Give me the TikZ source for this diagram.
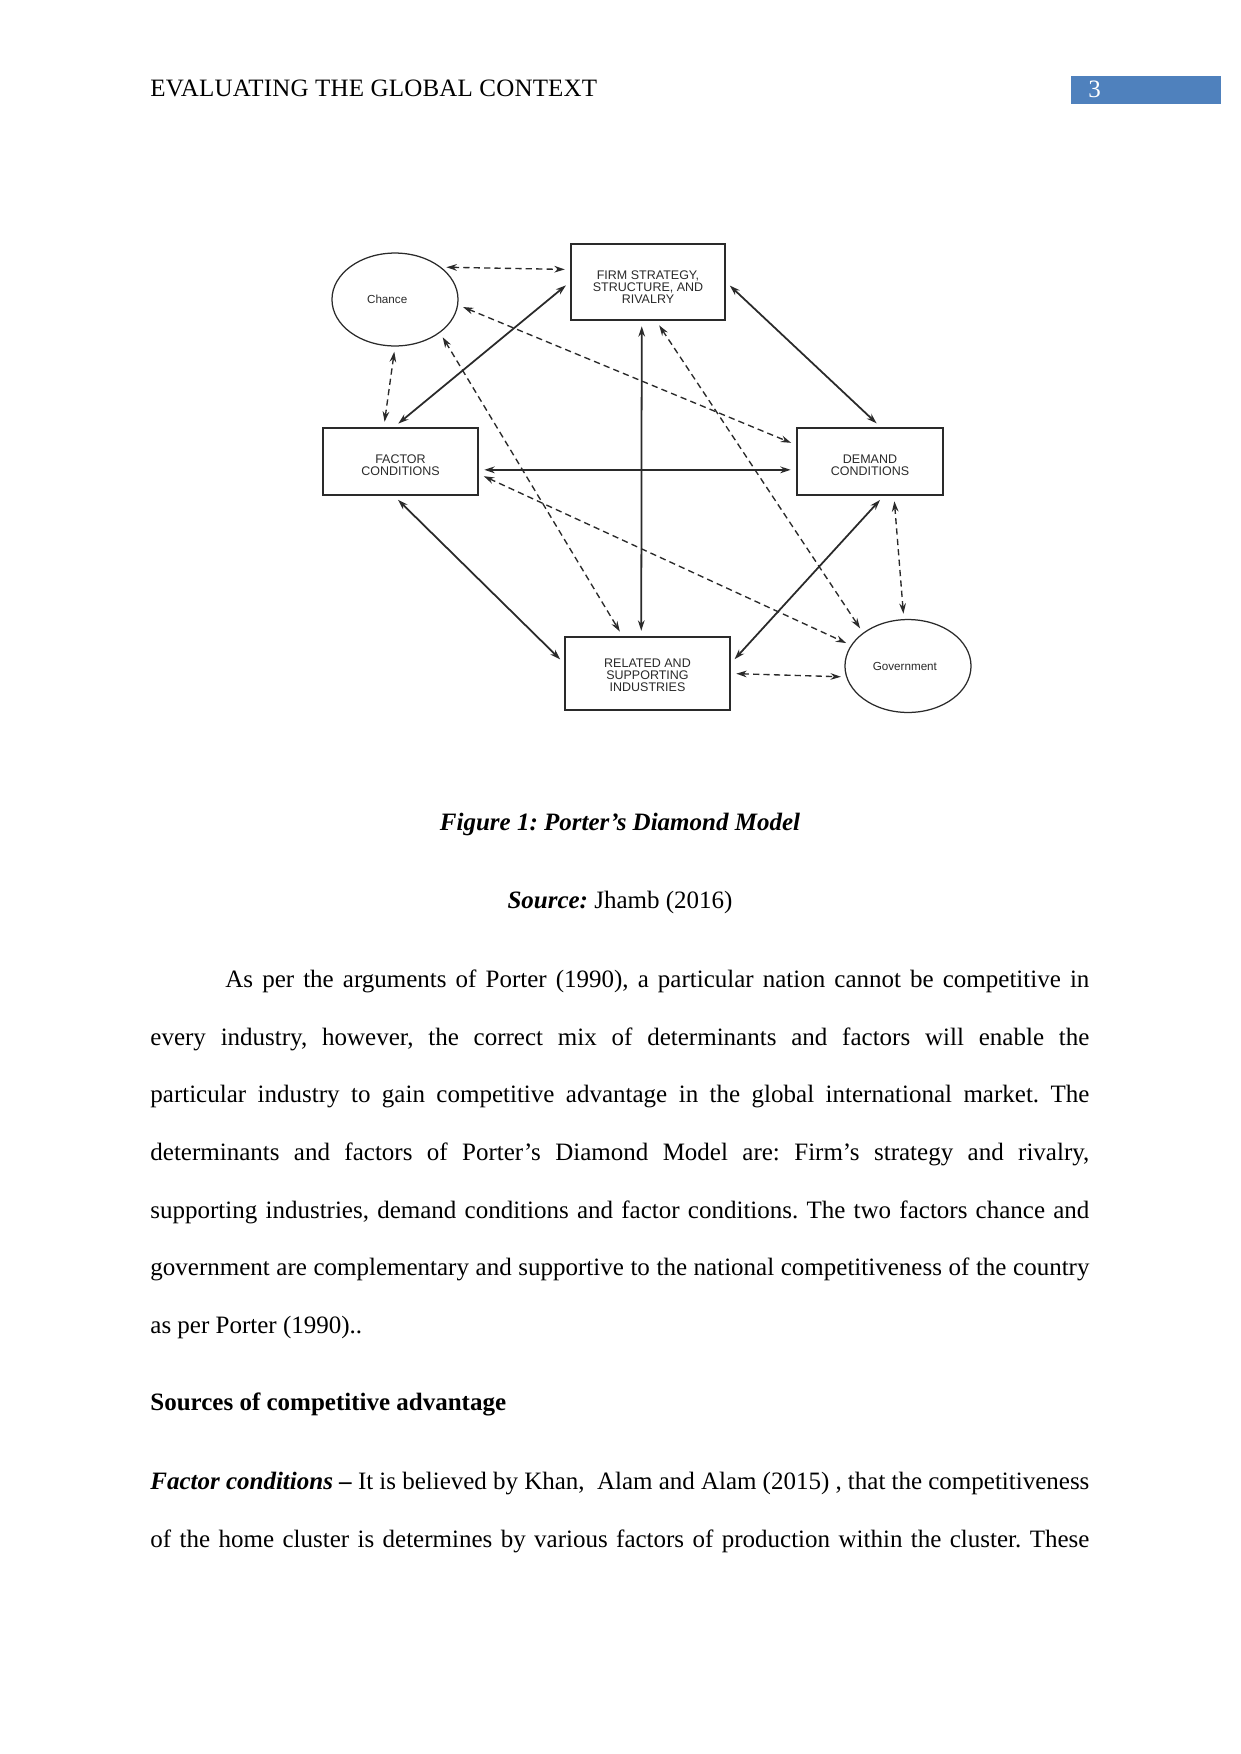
\documentclass[tikz,border=0pt]{standalone}
\usepackage{fontspec}
\setmainfont{Liberation Serif}
\newfontfamily\diagfont{Liberation Sans}
\usetikzlibrary{arrows.meta,positioning,shapes.geometric}
\definecolor{pageblue}{HTML}{4F81BD}
\definecolor{ink}{HTML}{2A2A2A}
\frenchspacing

\begin{document}
\begin{tikzpicture}[
      x=0.48pt, y=-0.48pt,
      txt/.style={anchor=base west, inner sep=0pt, font=\fontsize{12pt}{14pt}\selectfont},
      box/.style={
        draw=ink, line width=1pt, align=center, inner sep=1pt,
        font=\diagfont\fontsize{6pt}{5.9pt}\selectfont, text=ink
      },
      blob/.style={ellipse, draw=ink, line width=0.6pt, inner sep=0pt,
        minimum width=60.5pt, minimum height=44.6pt,
        font=\diagfont\fontsize{5.6pt}{6pt}\selectfont, text=ink},
      link/.style={{Stealth[length=5pt,width=3.2pt]}-{Stealth[length=5pt,width=3.2pt]},
        line width=0.85pt, draw=ink, shorten >=2.5pt, shorten <=2.5pt},
      dlink/.style={link, line width=0.65pt, dash pattern=on 3pt off 2pt}
    ]
      \useasboundingbox (0,0) rectangle (1241,1754);

      % page header
      \node[txt] (head) at (150,96) {\addfontfeature{LetterSpace=0.8}EVALUATING THE GLOBAL CONTEXT};
      \node[fill=pageblue, minimum width=72pt, minimum height=13.4pt, inner sep=0pt] (pgbox) at (1146,90) {};
      \node[txt, text=white] (pgnum) at (1088,97) {3};

      % the diamond
      \node[box, minimum width=73.9pt, minimum height=36.5pt] (firm) at (648,282) {\rule{0pt}{9.3pt}FIRM STRATEGY,\\STRUCTURE, AND\\RIVALRY};
      \node[box, minimum width=74.4pt, minimum height=32.2pt] (factor) at (400.5,461.5) {\rule{0pt}{7.5pt}FACTOR\\CONDITIONS};
      \node[box, minimum width=70.1pt, minimum height=32.2pt] (demand) at (870,461.5) {\rule{0pt}{7.5pt}DEMAND\\CONDITIONS};
      \node[box, minimum width=79.2pt, minimum height=35pt] (related) at (647.5,673.5) {\rule{0pt}{6pt}RELATED AND\\SUPPORTING\\INDUSTRIES};
      \node[blob] (chance) at (395,299.5) {Chance\hspace*{7.5pt}};
      \node[blob] (gov) at (908,666) {Government\hspace*{3pt}};

      \draw[link] ([xshift=-3pt]factor.north) -- (firm.west);
      \draw[link] (firm.east) -- ([xshift=5pt]demand.north);
      \draw[link] ([xshift=-3pt]firm.south) -- ([xshift=-3pt]related.north);
      \draw[link] ([yshift=-4pt]factor.east) -- ([yshift=-4pt]demand.west);
      \draw[link] ([xshift=-3pt]factor.south) -- ([yshift=5pt]related.west);
      \draw[link] ([xshift=6.5pt]demand.south) -- ([yshift=5pt]related.east);

      \draw[dlink] (chance.35) -- ([yshift=6pt]firm.west);
      \draw[dlink] (chance.south) -- ([xshift=-8pt]factor.north);
      \draw[dlink] (chance.-5) -- ([yshift=8pt]demand.west);
      \draw[dlink] (chance.south east) -- ([xshift=-12pt]related.north);
      \draw[dlink] ([xshift=4pt]firm.south) -- (gov.north west);
      \draw[dlink] ([yshift=-6pt]factor.east) -- (gov.160);
      \draw[dlink] ([xshift=11.5pt]demand.south) -- ([xshift=-2pt]gov.north);
      \draw[dlink] (related.east) -- (gov.190);

      % caption
      \node[txt, anchor=base] (cap) at (620,830) {\textbf{\textit{Figure 1: Porter’s Diamond Model}}};
      \node[txt, anchor=base] (src) at (620,908) {\textbf{\textit{Source:}} Jhamb (2016)};

      % body text
      \node[txt] (l1) at (225,987) {\makebox[414.7pt][s]{As per the arguments of Porter (1990), a particular nation cannot be competitive in}};
      \node[txt] (l2) at (150,1045) {\makebox[450.7pt][s]{every industry, however, the correct mix of determinants and factors will enable the}};
      \node[txt] (l3) at (150,1102) {\makebox[450.7pt][s]{particular industry to gain competitive advantage in the global international market. The}};
      \node[txt] (l4) at (150,1160) {\makebox[450.7pt][s]{determinants and factors of Porter’s Diamond Model are: Firm’s strategy and rivalry,}};
      \node[txt] (l5) at (150,1218) {\makebox[450.7pt][s]{supporting industries, demand conditions and factor conditions. The two factors chance and}};
      \node[txt] (l6) at (150,1275) {\makebox[450.7pt][s]{government are complementary and supportive to the national competitiveness of the country}};
      \node[txt] (l7) at (150,1333) {as per Porter (1990)..};

      \node[txt] (sub) at (150,1410) {\textbf{Sources of competitive advantage}};
      \node[txt] (l8) at (150,1489) {\makebox[450.7pt][s]{\textbf{\textit{Factor conditions}} \textbf{–} It is believed by Khan,\ \ Alam and Alam (2015) , that the competitiveness}};
      \node[txt] (l9) at (150,1547) {\makebox[450.7pt][s]{of the home cluster is determines by various factors of production within the cluster. These}};
    \end{tikzpicture}
\end{document}
